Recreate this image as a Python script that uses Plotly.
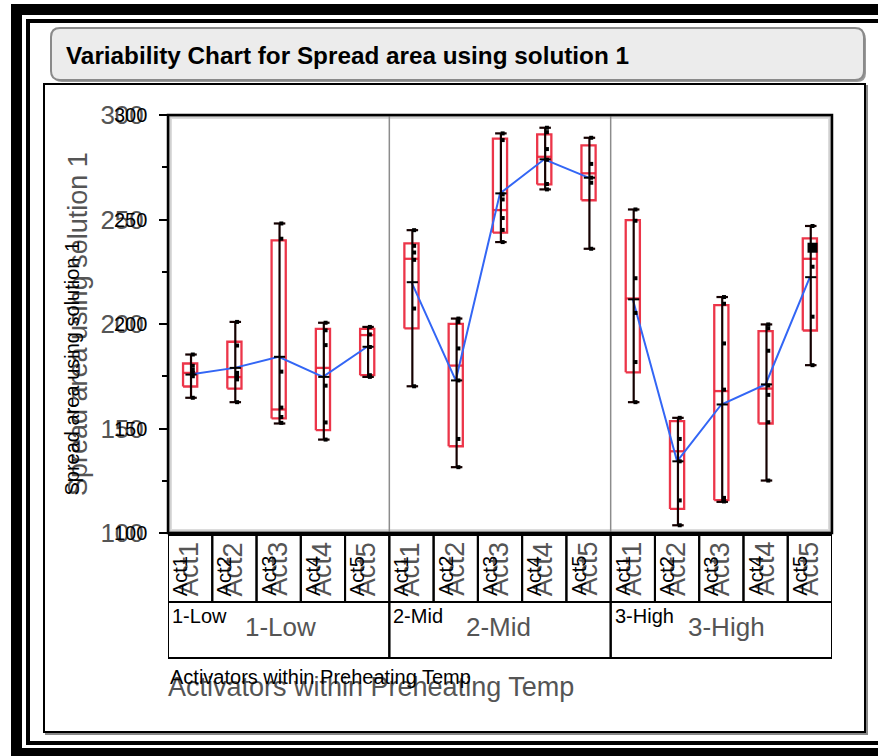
import plotly.graph_objects as go

W, H = 878, 756

# ---------------- data ----------------
temps = ["1-Low", "2-Mid", "3-High"]
activators = ["Act1", "Act2", "Act3", "Act4", "Act5"]

whisker_lo = [164.7, 162.6, 152.4, 144.7, 174.7,
              170.2, 131.5, 239.2, 264.4, 236.0,
              162.6, 103.7, 114.9, 125.1, 180.3]
whisker_hi = [185.4, 201.0, 248.1, 200.6, 198.6,
              244.9, 202.6, 291.2, 293.9, 289.1,
              254.8, 155.1, 212.9, 199.8, 246.9]
box_q1 = [170.1, 169.1, 154.8, 149.2, 175.5,
          197.9, 141.5, 243.7, 266.8, 259.2,
          176.9, 111.5, 115.7, 152.4, 196.9]
box_median = [176.6, 174.6, 159.1, 179.0, 194.7,
              231.2, 180.1, 254.5, 280.0, 272.1,
              212.2, 139.1, 167.9, 169.1, 231.2]
box_q3 = [181.1, 191.5, 240.0, 197.7, 197.7,
          238.6, 200.1, 288.7, 290.7, 285.5,
          249.7, 153.5, 209.0, 196.6, 241.0]
cell_means = [175.8, 179.0, 184.3, 174.7, 189.1,
              220.0, 173.0, 262.5, 278.8, 270.0,
              211.8, 134.3, 161.5, 171.1, 222.4]
points = [
    [185.4, 180.0, 178.0, 176.6, 175.0, 164.7],
    [201.0, 189.7, 176.6, 175.0, 173.5, 162.6],
    [248.1, 240.8, 177.2, 160.0, 155.5, 152.7],
    [200.6, 197.0, 189.9, 170.5, 152.9, 144.7],
    [198.6, 195.0, 189.0, 175.5, 174.7],
    [244.9, 237.4, 234.2, 230.7, 207.4, 170.2],
    [202.6, 201.0, 188.3, 173.0, 145.0, 131.5],
    [291.2, 288.0, 262.0, 259.6, 250.7, 245.0, 239.2],
    [293.9, 291.8, 283.7, 278.6, 267.0, 264.4],
    [289.1, 276.6, 270.0, 267.6, 236.0],
    [254.8, 249.4, 221.9, 205.3, 181.8, 162.6],
    [155.1, 145.0, 134.3, 115.6, 103.7],
    [212.9, 209.7, 190.7, 168.6, 116.8, 115.1],
    [199.8, 198.0, 187.2, 170.6, 166.1, 153.0, 125.1],
    [246.9, 236.5, 227.4, 203.5, 180.3],
]
highlight_cell = 14
highlight_value = 236.5

y_ticks = [100, 150, 200, 250, 300]
y_minor = [125, 175, 225, 275]
y_range = [100, 300]

title_text = "Variability Chart for Spread area using solution 1"
y_title = "Spread area using solution 1"
x_title = "Activators within Preheating Temp"

# ---------------- helpers ----------------
FONT = "Liberation Sans, Arial, sans-serif"
GREY_TXT = "#555555"
BLACK = "#000000"
RED = "rgba(234,36,58,0.92)"
BLUE = "#3366f5"


def px(x):
    return x / W


def py(y):
    return 1 - y / H


PL, PR, PT, PB = 168, 832, 115, 533

cells = [(t, a) for t in temps for a in activators]
n = len(cells)
xc = [i + 0.5 for i in range(n)]
ng = len(activators)

fig = go.Figure()

# boxes (red)
bx, by = [], []
for i in range(n):
    c = xc[i]
    hw = 0.16
    bx += [c - hw, c + hw, c + hw, c - hw, c - hw, None]
    by += [box_q1[i], box_q1[i], box_q3[i], box_q3[i], box_q1[i], None]
    bx += [c - hw, c + hw, None]
    by += [box_median[i], box_median[i], None]
fig.add_trace(go.Scatter(x=bx, y=by, mode="lines",
                         line=dict(color=RED, width=2.3), hoverinfo="skip",
                         showlegend=False))

# mean lines (blue) per temp group
for g in range(len(temps)):
    idx = list(range(g * ng, (g + 1) * ng))
    fig.add_trace(go.Scatter(x=[xc[i] for i in idx],
                             y=[cell_means[i] for i in idx],
                             mode="lines", line=dict(color=BLUE, width=2),
                             hoverinfo="skip", showlegend=False))

# whiskers
wx, wy = [], []
cap = 0.13
for i in range(n):
    c = xc[i] + 0.02
    wx += [c, c, None, c - cap, c + cap, None, c - cap, c + cap, None]
    wy += [whisker_lo[i], whisker_hi[i], None,
           whisker_lo[i], whisker_lo[i], None,
           whisker_hi[i], whisker_hi[i], None]
fig.add_trace(go.Scatter(x=wx, y=wy, mode="lines",
                         line=dict(color="#150000", width=2.2),
                         hoverinfo="skip", showlegend=False))

# mean ticks
fig.add_trace(go.Scatter(x=[c + 0.02 for c in xc], y=cell_means, mode="markers",
                         marker=dict(symbol="line-ew", size=8,
                                     line=dict(color=BLACK, width=2)),
                         hoverinfo="skip", showlegend=False))

# points
ptx, pty = [], []
for i in range(n):
    for v in points[i]:
        ptx.append(xc[i] + 0.06)
        pty.append(v)
fig.add_trace(go.Scatter(x=ptx, y=pty, mode="markers",
                         marker=dict(symbol="square", size=4, color=BLACK,
                                     line=dict(width=0)),
                         hoverinfo="skip", showlegend=False))
fig.add_trace(go.Scatter(x=[xc[highlight_cell] + 0.06], y=[highlight_value],
                         mode="markers",
                         marker=dict(symbol="square", size=10, color=BLACK),
                         hoverinfo="skip", showlegend=False))

# ---------------- shapes ----------------
shapes = []


def prect(x0, y0, x1, y1, **kw):
    d = dict(type="rect", xref="paper", yref="paper",
             x0=px(x0), x1=px(x1), y0=py(y1), y1=py(y0))
    d.update(kw)
    return d


def rounded_path(x0, y0, x1, y1, r):
    X = lambda v: f"{px(v):.5f}"
    Y = lambda v: f"{py(v):.5f}"
    return (f"M {X(x0 + r)},{Y(y0)} L {X(x1 - r)},{Y(y0)} "
            f"Q {X(x1)},{Y(y0)} {X(x1)},{Y(y0 + r)} L {X(x1)},{Y(y1 - r)} "
            f"Q {X(x1)},{Y(y1)} {X(x1 - r)},{Y(y1)} L {X(x0 + r)},{Y(y1)} "
            f"Q {X(x0)},{Y(y1)} {X(x0)},{Y(y1 - r)} L {X(x0)},{Y(y0 + r)} "
            f"Q {X(x0)},{Y(y0)} {X(x0 + r)},{Y(y0)} Z")


# outer frames
shapes.append(prect(11, 4, 900, 780, fillcolor=BLACK, line=dict(width=0), layer="below"))
shapes.append(prect(22, 15, 900, 748, fillcolor="white", line=dict(width=0), layer="below"))
shapes.append(prect(28, 21, 900, 743, line=dict(color=BLACK, width=4), layer="below"))
# title bar
shapes.append(dict(type="path", xref="paper", yref="paper",
                   path=rounded_path(53, 30, 866, 82, 9),
                   fillcolor="#9a9a9a", line=dict(width=0), layer="below"))
shapes.append(dict(type="path", xref="paper", yref="paper",
                   path=rounded_path(51, 28, 864, 80, 9),
                   fillcolor="#ececec", line=dict(color="#8a8a8a", width=2),
                   layer="below"))
# panel
shapes.append(prect(46, 86, 867, 734, line=dict(color="#888888", width=2), layer="below"))
shapes.append(prect(44, 84, 865, 732, fillcolor="white",
                    line=dict(color=BLACK, width=2), layer="below"))
# plot area inner shading + frame
shapes.append(prect(PL + 3, PT + 3, PR - 3, PB - 3,
                    line=dict(color="#dcdcdc", width=2), layer="below"))
shapes.append(prect(PL + 1.5, PT + 1.5, PR - 1.5, PB - 1.5,
                    line=dict(color="#b0b0b0", width=1.5), layer="below"))

# group dividers
for g in range(1, len(temps)):
    shapes.append(dict(type="line", xref="x", yref="y", x0=g * ng, x1=g * ng,
                       y0=y_range[0], y1=y_range[1],
                       line=dict(color="#8c8c8c", width=1.5), layer="below"))

shapes.append(prect(PL, PT, PR, PB, line=dict(color=BLACK, width=2.5), layer="above"))

# category table
ROW1_T, ROW1_B, ROW2_B = 535, 602, 658
for i in range(n):
    shapes.append(dict(type="rect", xref="x", yref="paper", x0=i, x1=i + 1,
                       y0=py(ROW1_B), y1=py(ROW1_T),
                       line=dict(color=BLACK, width=2)))
for g in range(len(temps)):
    shapes.append(dict(type="rect", xref="x", yref="paper", x0=g * ng,
                       x1=(g + 1) * ng, y0=py(ROW2_B), y1=py(ROW1_B),
                       line=dict(color=BLACK, width=2)))

# ---------------- annotations ----------------
ann = []
ann.append(dict(text=f"<b>{title_text}</b>", xref="paper", yref="paper",
                x=px(64), y=py(55), xanchor="left", yanchor="middle",
                showarrow=False, font=dict(family=FONT, size=24.3, color=BLACK)))

# small black copies of y tick labels
for v in y_ticks:
    ann.append(dict(text=str(v), xref="paper", yref="y", x=px(149), y=v,
                    xanchor="right", yanchor="middle", showarrow=False,
                    font=dict(family=FONT, size=20, color=BLACK)))

# y title (large grey + small black)
ann.append(dict(text=y_title, xref="paper", yref="paper", x=px(78), y=py(498),
                xanchor="center", yanchor="bottom", textangle=-90,
                showarrow=False, font=dict(family=FONT, size=27, color=GREY_TXT)))
ann.append(dict(text=y_title, xref="paper", yref="paper", x=px(71), y=py(498),
                xanchor="center", yanchor="bottom", textangle=-90,
                showarrow=False, font=dict(family=FONT, size=20, color=BLACK)))

# activator labels
for i, (t, a) in enumerate(cells):
    ann.append(dict(text=a, xref="x", yref="paper", x=xc[i], xshift=-1,
                    y=py(598), xanchor="center", yanchor="bottom",
                    textangle=-90, showarrow=False,
                    font=dict(family=FONT, size=27, color=GREY_TXT)))
    ann.append(dict(text=a, xref="x", yref="paper", x=xc[i], xshift=-10,
                    y=py(598), xanchor="center", yanchor="bottom",
                    textangle=-90, showarrow=False,
                    font=dict(family=FONT, size=20, color=BLACK)))

# temp labels
for g, t in enumerate(temps):
    ann.append(dict(text=t, xref="x", yref="paper", x=g * ng, xshift=75,
                    y=py(627), xanchor="left", yanchor="middle",
                    showarrow=False,
                    font=dict(family=FONT, size=26, color=GREY_TXT)))
    ann.append(dict(text=t, xref="x", yref="paper", x=g * ng, xshift=2,
                    y=py(603), xanchor="left", yanchor="top",
                    showarrow=False,
                    font=dict(family=FONT, size=20, color=BLACK)))

# x title
ann.append(dict(text=x_title, xref="paper", yref="paper", x=px(166), y=py(687),
                xanchor="left", yanchor="middle", showarrow=False,
                font=dict(family=FONT, size=27, color=GREY_TXT)))
ann.append(dict(text=x_title, xref="paper", yref="paper", x=px(168), y=py(677),
                xanchor="left", yanchor="middle", showarrow=False,
                font=dict(family=FONT, size=20, color=BLACK)))

fig.update_layout(
    width=W, height=H, autosize=False,
    margin=dict(l=0, r=0, t=0, b=0, pad=0, autoexpand=False),
    paper_bgcolor="white", plot_bgcolor="white",
    showlegend=False,
    shapes=shapes, annotations=ann,
    xaxis=dict(domain=[px(PL), px(PR)], range=[0, n], showgrid=False,
               zeroline=False, showticklabels=False, ticks="",
               showline=False, fixedrange=True, automargin=False),
    yaxis=dict(domain=[py(PB), py(PT)], range=y_range, showgrid=False,
               zeroline=False, showline=False, tickvals=y_ticks,
               ticktext=[str(v) for v in y_ticks],
               ticks="outside", ticklen=8, tickwidth=2, tickcolor=BLACK,
               ticklabelstandoff=10, automargin=False,
               tickfont=dict(family=FONT, size=26, color=GREY_TXT),
               minor=dict(tickvals=y_minor, ticks="outside", ticklen=5,
                          tickwidth=2, tickcolor=BLACK),
               fixedrange=True),
)

fig.write_html("out.html")
